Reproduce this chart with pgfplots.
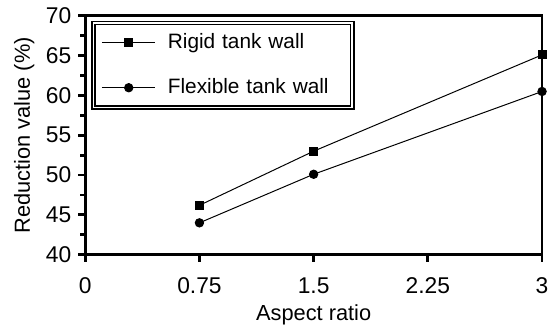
\documentclass[border=0pt]{standalone}
\usepackage{fontspec}
\setmainfont{Liberation Sans}
\usepackage{pgfplots}
\pgfplotsset{compat=1.18}

\begin{document}
\begin{tikzpicture}
\begin{axis}[
  scale only axis,
  width=230.5pt, height=120.5pt,
  xmin=0, xmax=3, ymin=40, ymax=70,
  axis line style={line width=1.4pt},
  xtick={0,0.75,1.5,2.25,3},
  xticklabels={0,0.75,1.5,2.25,3},
  ytick={40,45,50,55,60,65,70},
  yticklabels={40,45,50,55,60,65,70},
  minor y tick num=1,
  xtick pos=bottom, ytick pos=left,
  tick align=outside,
  major tick length=3.5pt, minor tick length=2.5pt,
  every tick/.style={line width=1.4pt, black},
  /pgf/number format/assume math mode=true,
  tick label style={font=\fontsize{11.5}{13}\selectfont},
  xticklabel style={yshift=-4.5pt},
  label style={font=\fontsize{11}{13}\selectfont},
  xlabel={Aspect ratio},
  ylabel={Reduction value (\%)},
  xlabel style={yshift=1.5pt},
  ylabel style={yshift=-1pt},
  legend cell align=left,
  legend image code/.code={
    \draw[mark repeat=2, mark phase=2] plot coordinates {(0pt,0pt) (13.5pt,0pt) (27pt,0pt)};
  },
  legend style={
    at={(0,1)}, anchor=north west, xshift=3.8pt, yshift=-3.2pt,
    draw=black, line width=0.8pt, double=white, double distance=0.8pt,
    font=\fontsize{10.5}{12.5}\selectfont,
    inner xsep=4pt, inner ysep=3.5pt, row sep=9.5pt,
    nodes={text width=83pt, align=left, inner xsep=6pt},
  },
]
\addplot[black, line width=0.5pt, mark=square*, mark size=2pt,
  mark options={solid, line width=0.5pt}]
  coordinates {(0.75,46.2) (1.5,53.0) (3,65.1)};
\addlegendentry{Rigid tank wall}
\addplot[black, line width=0.5pt, mark=*, mark size=2.1pt,
  mark options={solid, line width=0.5pt}]
  coordinates {(0.75,44.0) (1.5,50.1) (3,60.5)};
\addlegendentry{Flexible tank wall}
\end{axis}
\path[use as bounding box] (current axis.south west) ++(-43pt,-37.5pt) rectangle ++(277.5pt,166pt);
\end{tikzpicture}
\end{document}
